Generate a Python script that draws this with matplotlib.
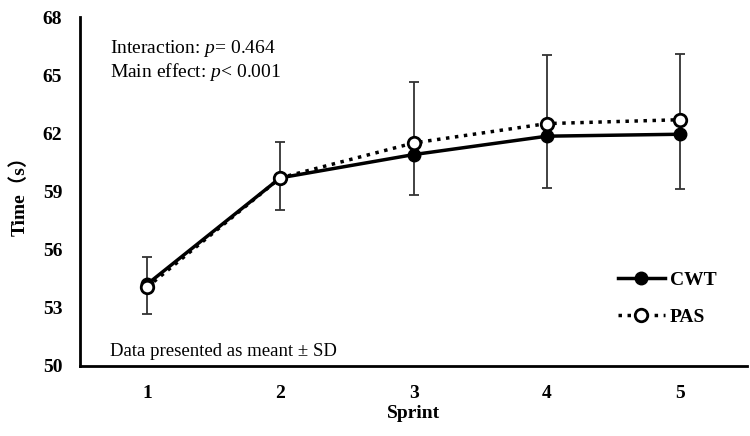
import matplotlib.pyplot as plt
import numpy as np

# Données
sprints = [1, 2, 3, 4, 5]
cwt = [54.2, 59.7, 60.9, 61.85, 61.95]
pas = [54.05, 59.7, 61.5, 62.5, 62.7]
err_haut = [55.6, 61.55, 64.65, 66.05, 66.1]
err_bas = [52.65, 58.05, 58.8, 59.2, 59.1]
yticks = [50, 53, 56, 59, 62, 65, 68]

serif = ['Liberation Serif', 'DejaVu Serif']
plt.rcParams['font.family'] = serif
plt.rcParams['mathtext.fontset'] = 'custom'
plt.rcParams['mathtext.it'] = 'Liberation Serif:italic'
plt.rcParams['mathtext.rm'] = 'Liberation Serif'

fig = plt.figure(figsize=(7.5, 4.36), dpi=100)
ax = fig.add_axes([0.107, 0.161, 0.889, 0.8])

# Barres d'erreur (une seule par sprint)
centre = (np.array(err_haut) + np.array(err_bas)) / 2
demi = (np.array(err_haut) - np.array(err_bas)) / 2
ax.errorbar(sprints, centre, yerr=demi, fmt='none', ecolor='#333333',
            elinewidth=1.3, capsize=3.5, capthick=1.3, zorder=1)

ax.plot(sprints, cwt, color='black', linewidth=2.5, marker='o', markersize=9,
        markerfacecolor='black', markeredgecolor='black', label='CWT', zorder=3)
ax.plot(sprints, pas, color='black', linewidth=2.5, linestyle=(0, (1, 1.6)), marker='o',
        markersize=9, markerfacecolor='white', markeredgecolor='black',
        markeredgewidth=2, label='PAS', zorder=4)

ax.set_xlim(0.5, 5.5)
ax.set_ylim(50, 68)
ax.set_xticks(sprints)
ax.set_yticks(yticks)
ax.tick_params(length=0, labelsize=14)
ax.tick_params(axis='y', pad=13)
ax.tick_params(axis='x', pad=14)
for lab in ax.get_xticklabels() + ax.get_yticklabels():
    lab.set_fontweight('bold')

ax.spines['top'].set_visible(False)
ax.spines['right'].set_visible(False)
ax.spines['left'].set_linewidth(2)
ax.spines['bottom'].set_linewidth(2)

ax.set_xlabel('Sprint', fontsize=14, fontweight='bold', labelpad=2)
ax.set_ylabel('Time（s）', fontsize=14, fontweight='bold', labelpad=10,
              family=['Liberation Serif', 'Noto Sans CJK SC'])

ax.text(0.045, 0.911, 'Interaction: $\\it{p}$= 0.464', transform=ax.transAxes,
        fontsize=14, va='center')
ax.text(0.045, 0.842, 'Main effect: $\\it{p}$< 0.001', transform=ax.transAxes,
        fontsize=14, va='center')
ax.text(0.045, 0.04, 'Data presented as meant ± SD', transform=ax.transAxes,
        fontsize=13.5, va='center')

leg = ax.legend(loc='lower right', bbox_to_anchor=(0.98, 0.065), frameon=False,
                prop={'weight': 'bold', 'size': 14}, handlelength=2.4,
                handletextpad=0.25, labelspacing=1.0)

fig.savefig('out.png', dpi=100)
